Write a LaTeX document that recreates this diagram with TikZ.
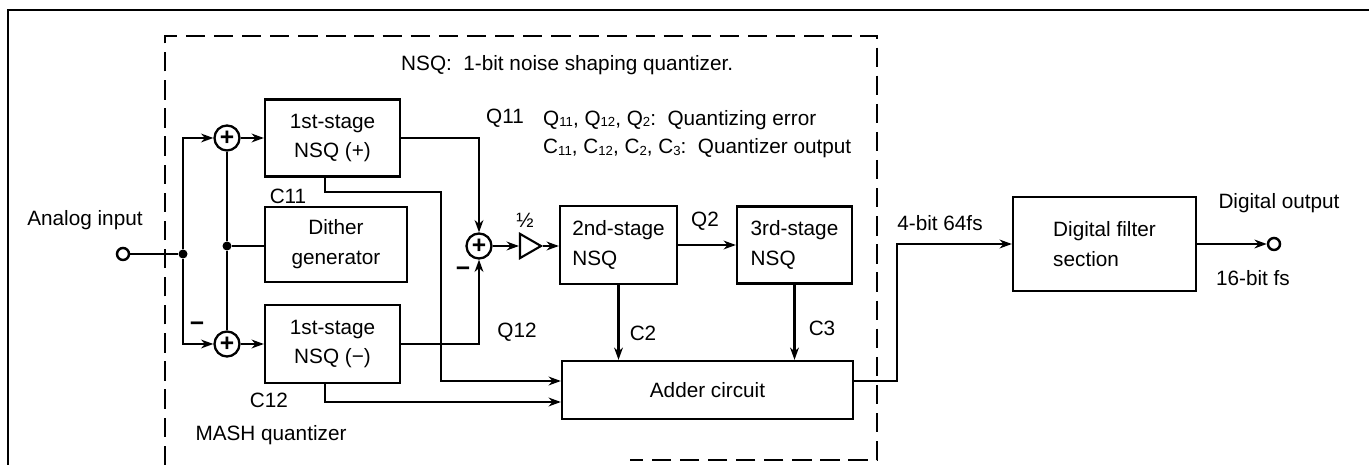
\documentclass[tikz,border=0pt]{standalone}
\usepackage{fontspec}
\setmainfont{Liberation Sans}
\usetikzlibrary{positioning, arrows.meta, shapes.geometric}
\newcommand\subn[1]{\raisebox{-0.15ex}{\fontsize{7.5}{8}\selectfont #1}}

\begin{document}
\begin{tikzpicture}[
    x=0.02cm, y=-0.02cm,
    font=\fontsize{11.8}{17}\selectfont,
    box/.style={draw, line width=1.3pt, inner sep=2pt, align=center},
    sum/.style={draw, circle, line width=1.3pt, minimum size=0.5cm, inner sep=0pt, font=\fontsize{14}{14}\selectfont\bfseries},
    amp/.style={draw, isosceles triangle, isosceles triangle apex angle=60, line width=1.2pt, inner sep=0pt, minimum height=0.42cm, minimum width=0.48cm},
    dot/.style={circle, fill, inner sep=0pt, minimum size=0.18cm},
    term/.style={circle, draw, line width=1.4pt, fill=white, inner sep=0pt, minimum size=0.24cm},
    sgn/.style={font=\fontsize{14}{14}\selectfont\bfseries},
    wire/.style={line width=1.3pt},
    arr/.style={-{Stealth[length=7pt, width=5pt]}, line width=1.3pt}]
    \useasboundingbox (0,0) rectangle (1369,465);
    \draw[line width=1.6pt] (8,465) -- (8,10) -- (1369,10);
    \draw[line width=1.3pt, dash pattern=on 11pt off 5pt] (165,465) -- (165,36) -- (877,36) -- (877,460) -- (630,460);
    \node[box, minimum width=2.7cm, minimum height=1.54cm]  (nsqp)   at (332.5,138) {1st-stage\\NSQ (+)};
    \node[box, minimum width=2.84cm, minimum height=1.5cm]  (dither) at (336,244.5) {Dither\\generator};
    \node[box, minimum width=2.7cm, minimum height=1.56cm]  (nsqm)   at (332.5,344) {1st-stage\\NSQ (−)};
    \node[box, align=left, minimum width=2.34cm, minimum height=1.56cm] (nsq2) at (618.5,245) {2nd-stage\\NSQ};
    \node[box, align=left, minimum width=2.3cm, minimum height=1.54cm]  (nsq3) at (794.5,245) {3rd-stage\\NSQ};
    \node[box, minimum width=5.82cm, minimum height=1.16cm] (adder)  at (707.5,390) {Adder circuit};
    \node[box, align=left, minimum width=3.66cm, minimum height=1.88cm] (filter) at (1104.5,244) {Digital filter\\section};
    \node[term] (ain)  at (123,254) {};
    \node[dot]  (j1)   at (183,254) {};
    \node[dot]  (j2)   at (227,246) {};
    \node[sum]  (s1)   at (227,138) {+};
    \node[sum]  (s2)   at (227,344) {+};
    \node[sum]  (s3)   at (479,246) {+};
    \node[amp]  (half) at (527,246) {};
    \node[term] (dout) at (1274,244) {};
    \coordinate (c11) at (441,192);
    \coordinate (tap) at (897,244);
    \draw[wire] (ain) -- (j1);
    \draw[arr] (j1) |- (s1);
    \draw[arr] (j1) |- (s2);
    \draw[wire] (dither.west |- j2) -- (j2);
    \draw[wire] (s1) -- (j2) -- (s2);
    \draw[arr] (s1) -- (nsqp);
    \draw[arr] (s2) -- (nsqm);
    \draw[arr] (nsqp) -| (s3);
    \draw[arr] (nsqm) -| (s3);
    \draw[arr] ([xshift=-0.15cm]nsqp.south) |- (c11) |- ([yshift=0.18cm]adder.west);
    \draw[arr] ([xshift=-0.15cm]nsqm.south) |- ([yshift=-0.24cm]adder.west);
    \draw[arr] (s3) -- (half);
    \draw[arr] (half.apex) -- (half.apex -| nsq2.west);
    \draw[arr] (nsq2) -- (nsq3);
    \draw[arr] (nsq2.south) -- (nsq2.south |- adder.north);
    \draw[arr] (nsq3.south) -- (nsq3.south |- adder.north);
    \draw[arr] ([yshift=0.18cm]adder.east) -| (tap) -- (tap -| filter.west);
    \draw[arr] (filter) -- (dout);
    \node at (85,220) {Analog input};
    \node[anchor=west] (nsqnote) at (395,65) {NSQ:\ \ 1-bit noise shaping quantizer.};
    \node[anchor=west, align=left, font=\fontsize{11.8}{16}\selectfont] (legend) at (537,134) {Q\subn{11}, Q\subn{12}, Q\subn{2}:\ \ Quantizing error\\C\subn{11}, C\subn{12}, C\subn{2}, C\subn{3}:\ \ Quantizer output};
    \node at (288,196) {C11};
    \node at (269,400) {C12};
    \node at (271,435) {MASH quantizer};
    \node[sgn] at (197,327) {−};
    \node at (505,118) {Q11};
    \node at (517,332) {Q12};
    \node[sgn] at (463,272) {−};
    \node at (525,220) {½};
    \node at (705,221) {Q2};
    \node at (643,333) {C2};
    \node at (822,328) {C3};
    \node at (940,223) {4-bit 64fs};
    \node at (1279,203) {Digital output};
    \node at (1253,278) {16-bit fs};
  \end{tikzpicture}
\end{document}
